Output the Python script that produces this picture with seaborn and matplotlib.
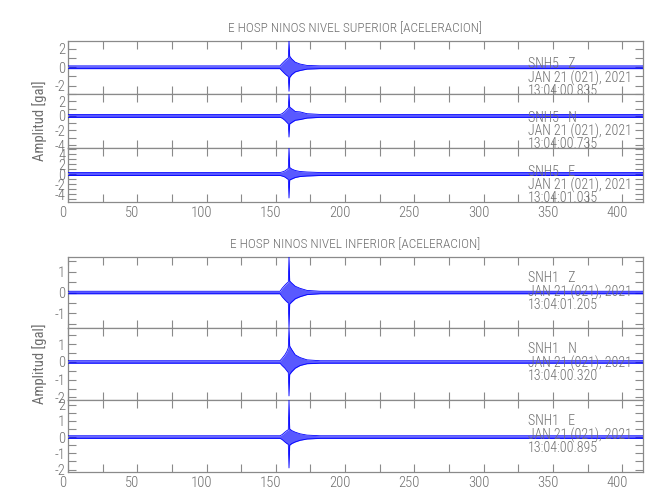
import numpy as np
import pandas as pd
import matplotlib
matplotlib.use("Agg")
import matplotlib.pyplot as plt
import matplotlib.transforms as mtransforms
import seaborn as sns
from matplotlib.ticker import MultipleLocator

# ---- data (envelopes, amplitude in gal, time in s) ----
x_max = 415
t_env = [0, 153, 154.5, 156.5, 158, 159, 159.5, 160, 161.5, 164, 167.5, 172.5, 182, x_max]

snh5_z_up = [0.15, 0.15, 0.4, 0.7, 0.9, 1.0, 2.85, 1.2, 0.9, 0.55, 0.35, 0.2, 0.15, 0.15]
snh5_z_lo = [-0.15, -0.15, -0.4, -0.7, -0.9, -1.0, -2.6, -1.1, -0.8, -0.5, -0.35, -0.2, -0.15, -0.15]
snh5_n_up = [0.2, 0.2, 0.3, 0.6, 0.9, 1.1, 3.0, 1.2, 1.0, 0.6, 0.55, 0.3, 0.2, 0.2]
snh5_n_lo = [-0.2, -0.2, -0.3, -0.6, -0.9, -1.1, -2.9, -1.1, -0.9, -0.6, -0.5, -0.3, -0.2, -0.2]
snh5_e_up = [0.3, 0.3, 0.4, 0.6, 0.9, 1.1, 5.2, 1.3, 1.0, 0.7, 0.5, 0.4, 0.3, 0.3]
snh5_e_lo = [-0.3, -0.3, -0.4, -0.6, -0.9, -1.1, -4.8, -1.2, -1.0, -0.7, -0.5, -0.4, -0.3, -0.3]
snh1_z_up = [0.06, 0.06, 0.2, 0.35, 0.45, 0.5, 1.7, 0.55, 0.45, 0.3, 0.2, 0.1, 0.06, 0.06]
snh1_z_lo = [-0.06, -0.06, -0.2, -0.35, -0.45, -0.5, -1.7, -0.55, -0.45, -0.3, -0.2, -0.1, -0.06, -0.06]
snh1_n_up = [0.07, 0.07, 0.2, 0.4, 0.6, 0.8, 1.92, 0.9, 0.7, 0.4, 0.25, 0.12, 0.07, 0.07]
snh1_n_lo = [-0.07, -0.07, -0.2, -0.35, -0.5, -0.6, -1.92, -0.7, -0.55, -0.35, -0.2, -0.1, -0.07, -0.07]
snh1_e_up = [0.08, 0.08, 0.15, 0.3, 0.4, 0.45, 2.28, 0.5, 0.4, 0.3, 0.2, 0.12, 0.08, 0.08]
snh1_e_lo = [-0.08, -0.08, -0.15, -0.3, -0.4, -0.45, -1.9, -0.5, -0.4, -0.3, -0.2, -0.12, -0.08, -0.08]

stations = ["SNH5   Z", "SNH5   N", "SNH5   E", "SNH1   Z", "SNH1   N", "SNH1   E"]
dates = ["JAN 21 (021), 2021"] * 6
times = ["13:04:00.835", "13:04:00.735", "13:04:01.035",
         "13:04:01.205", "13:04:00.320", "13:04:00.895"]
titles = ["E HOSP NINOS NIVEL SUPERIOR [ACELERACION]",
          "E HOSP NINOS NIVEL INFERIOR [ACELERACION]"]
ylabel = "Amplitud [gal]"

# ---- style ----
sns.set_theme(style="white")
FONT = ["Roboto Condensed", "Liberation Sans Narrow", "Roboto", "DejaVu Sans"]
plt.rcParams["font.family"] = FONT
plt.rcParams["font.weight"] = "light"
plt.rcParams["axes.unicode_minus"] = False
GRAY = "#8a8a8a"
TXT = "#6e6e6e"
BLUE = "#0000ff"
FS = 10

W, H = 650, 500
fig = plt.figure(figsize=(6.5, 5), dpi=100)

left_px, right_px = 68, 643
panels_px = [(41, 94), (94, 148), (148, 202), (257, 328), (328, 400), (400, 472)]
ylims = [(-2.9, 2.85), (-4.4, 3.0), (-5.6, 5.2), (-1.7, 1.7), (-2.15, 1.92), (-2.15, 2.28)]
ups = [snh5_z_up, snh5_n_up, snh5_e_up, snh1_z_up, snh1_n_up, snh1_e_up]
los = [snh5_z_lo, snh5_n_lo, snh5_e_lo, snh1_z_lo, snh1_n_lo, snh1_e_lo]
text_top = [0.69, 0.69, 0.69, 0.80, 0.80, 0.80]
shift = mtransforms.ScaledTranslation(-5 / 100, 0, fig.dpi_scale_trans)

for i in range(6):
    top, bot = panels_px[i]
    ax = fig.add_axes([left_px / W, 1 - bot / H, (right_px - left_px) / W, (bot - top) / H])
    df = pd.DataFrame({"t": t_env, "up": ups[i], "lo": los[i]})
    ax.fill_between(df["t"], df["lo"], df["up"], color=BLUE, alpha=0.65, lw=0, zorder=2)
    sns.lineplot(data=df, x="t", y="up", ax=ax, color=BLUE, lw=0.6, estimator=None, zorder=3)
    sns.lineplot(data=df, x="t", y="lo", ax=ax, color=BLUE, lw=0.6, estimator=None, zorder=3)
    ax.set_xlim(0, x_max)
    ax.set_ylim(*ylims[i])
    ax.set_xlabel("")
    ax.set_ylabel("")
    for s in ax.spines.values():
        s.set_color(GRAY)
        s.set_linewidth(0.9)
    ax.xaxis.set_major_locator(MultipleLocator(50))
    ax.xaxis.set_minor_locator(MultipleLocator(25))
    if i < 3:
        ax.yaxis.set_major_locator(MultipleLocator(2))
        ax.yaxis.set_minor_locator(MultipleLocator(1))
    else:
        ax.yaxis.set_major_locator(MultipleLocator(1))
        ax.yaxis.set_minor_locator(MultipleLocator(0.5))
    ax.tick_params(which="both", direction="in", top=True, bottom=True, left=True, right=True,
                   color=GRAY, width=0.8, length=6, labelcolor=TXT, labelsize=FS + 0.5, pad=3)
    ax.tick_params(axis="y", which="both", pad=2)
    ax.set_yticks(ax.get_yticks())
    ax.set_yticklabels([f"{int(v)}" for v in ax.get_yticks()])
    ax.set_ylim(*ylims[i])
    if i not in (2, 5):
        ax.tick_params(axis="x", labelbottom=False)
    else:
        for lab in ax.get_xticklabels():
            lab.set_transform(lab.get_transform() + shift)
    for j, txt in enumerate([stations[i], dates[i], times[i]]):
        ax.annotate(txt, xy=(0.80, text_top[i]), xycoords="axes fraction",
                    xytext=(0, -j * 9.5), textcoords="offset points",
                    va="top", ha="left", fontsize=FS, color=TXT,
                    annotation_clip=False, zorder=5)
    if i in (1, 4):
        ax.set_ylabel(ylabel, color=TXT, fontsize=FS + 0.5)
        ax.yaxis.set_label_coords(-0.036, 0.5)

cx = (left_px + right_px) / 2 / W
fig.text(cx, 1 - 29 / H, titles[0], ha="center", va="center", color=TXT, fontsize=FS - 0.4)
fig.text(cx, 1 - 245 / H, titles[1], ha="center", va="center", color=TXT, fontsize=FS - 0.4)

fig.savefig("out.png", dpi=100, facecolor="white")
